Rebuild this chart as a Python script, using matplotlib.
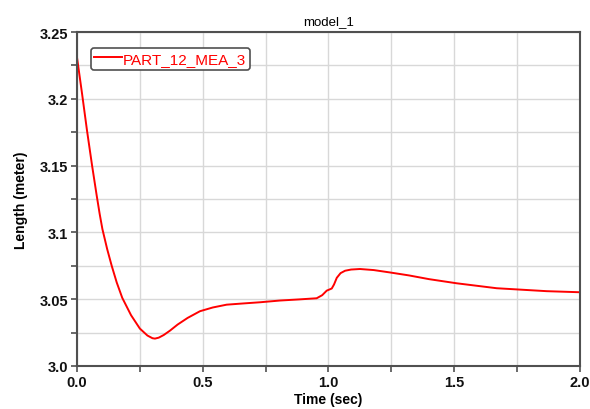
import matplotlib.pyplot as plt
from matplotlib.ticker import MultipleLocator

# values
time = [0.0, 0.02, 0.04, 0.06, 0.078, 0.09, 0.101, 0.12, 0.138, 0.158, 0.18,
        0.215, 0.25, 0.28, 0.30, 0.31, 0.325, 0.345, 0.37, 0.40, 0.44, 0.489,
        0.54, 0.595, 0.66, 0.728, 0.807, 0.88, 0.953, 0.975, 0.993, 1.013,
        1.022, 1.033, 1.048, 1.066, 1.09, 1.125, 1.18, 1.245, 1.32, 1.40,
        1.51, 1.669, 1.868, 2.0]
length = [3.231, 3.204, 3.176, 3.150, 3.128, 3.114, 3.1025, 3.0875, 3.075, 3.0625, 3.051,
          3.038, 3.028, 3.0228, 3.0208, 3.0205, 3.0212, 3.0232, 3.0265, 3.031, 3.036, 3.041,
          3.0438, 3.0459, 3.0468, 3.0477, 3.049, 3.0498, 3.0507, 3.053, 3.0564, 3.058,
          3.061, 3.066, 3.0695, 3.0713, 3.0722, 3.0726, 3.0718, 3.070, 3.0678, 3.065,
          3.0619, 3.0582, 3.056, 3.0552]

plt.rcParams['font.family'] = ['Liberation Sans', 'DejaVu Sans']

fig = plt.figure(figsize=(5.9, 4.1), dpi=100)
ax = fig.add_axes([0.1305, 0.1049, 0.8525, 0.8146])

ax.plot(time, length, color='#ff0000', lw=1.4, label='PART_12_MEA_3')

ax.set_xlim(0, 2.0)
ax.set_ylim(3.0, 3.25)
ax.xaxis.set_minor_locator(MultipleLocator(0.25))
ax.yaxis.set_minor_locator(MultipleLocator(0.025))
ax.set_xticks([0.0, 0.5, 1.0, 1.5, 2.0])
ax.set_xticklabels(['0.0', '0.5', '1.0', '1.5', '2.0'])
ax.set_yticks([3.0, 3.05, 3.1, 3.15, 3.2, 3.25])
ax.set_yticklabels(['3.0', '3.05', '3.1', '3.15', '3.2', '3.25'])

ax.grid(True, which='both', color='#d8d8d8', lw=1.0)
ax.set_axisbelow(True)
for s in ax.spines.values():
    s.set_color('#505050')
    s.set_linewidth(1.5)
ax.tick_params(which='both', colors='#505050', width=1.2, labelcolor='#111111',
               labelsize=10.5, length=4, pad=2.5)
for lb in ax.get_xticklabels() + ax.get_yticklabels():
    lb.set_fontweight('bold')

ax.set_xlabel('Time (sec)', fontsize=10, fontweight='bold', labelpad=2)
ax.set_ylabel('Length (meter)', fontsize=10, fontweight='bold', labelpad=8)
ax.set_title('model_1', fontsize=9.5, pad=6)

leg = ax.legend(loc='upper left', fontsize=11, handlelength=1.8, handletextpad=0.05,
                borderpad=0.25, fancybox=True, framealpha=1,
                bbox_to_anchor=(0.012, 0.975))
leg.get_frame().set_edgecolor('#505050')
leg.get_frame().set_linewidth(1.2)
for t in leg.get_texts():
    t.set_color('#ff0000')

fig.savefig('out.png', dpi=100)
